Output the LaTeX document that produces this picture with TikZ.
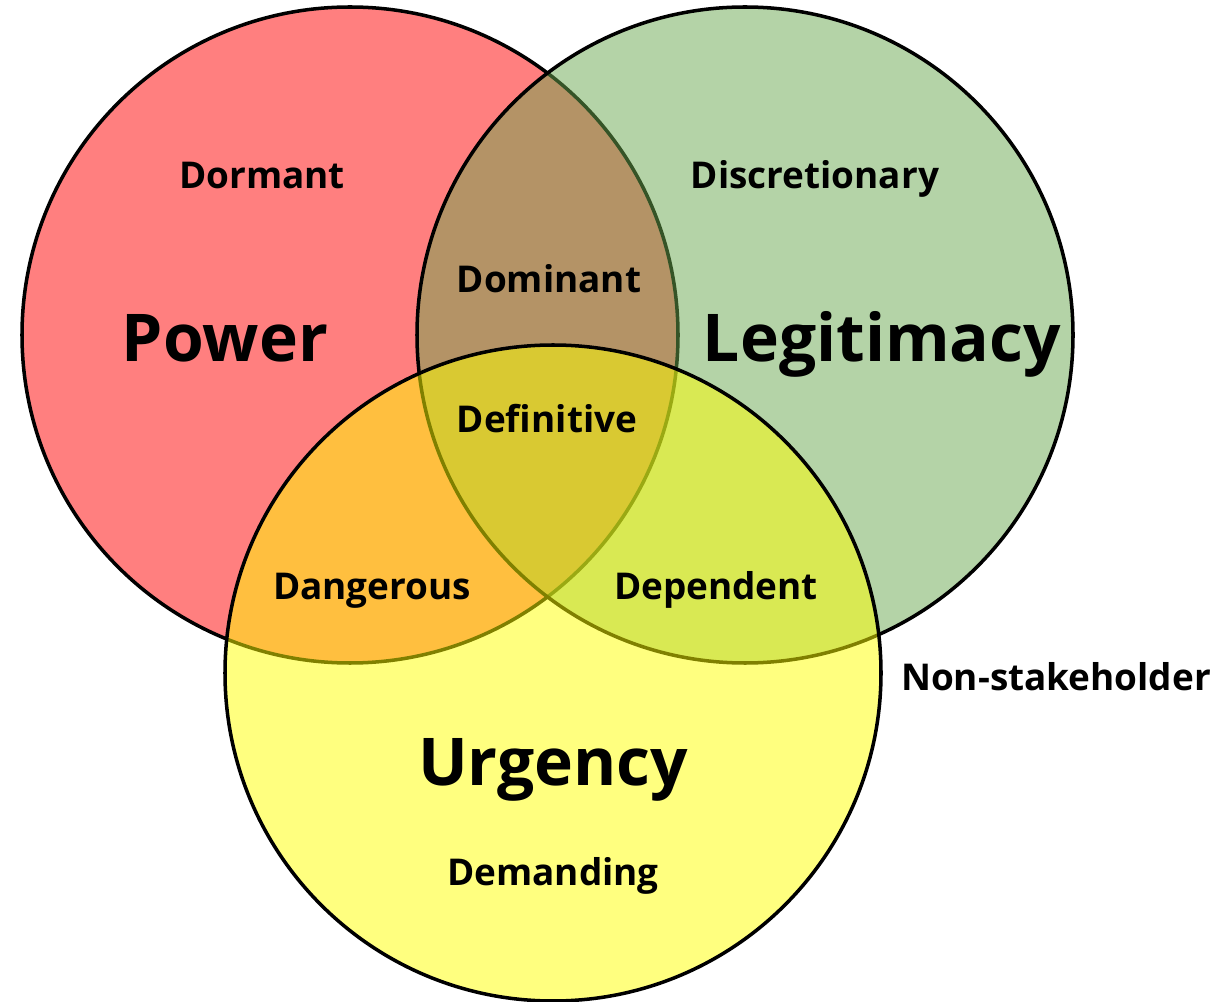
\documentclass[tikz,border=0pt]{standalone}
\usepackage{fontspec}
\setmainfont{Open Sans}
\usetikzlibrary{calc}
\definecolor{powerred}{HTML}{FF0000}
\definecolor{legitgreen}{HTML}{6AA84F}
\definecolor{urgyellow}{HTML}{FFFF00}
\tikzset{
	venn/.style={line width=2pt, draw=black, fill opacity=0.5, draw opacity=1},
	kind/.style={font=\bfseries\fontsize{21}{24}\selectfont, anchor=base, inner sep=0pt},
	attr/.style={font=\bfseries\fontsize{37.5}{44}\selectfont, anchor=base, inner sep=0pt}
}
\begin{document}
\begin{tikzpicture}
			%%%%% START %%%%%
			
			\useasboundingbox (0, 0) rectangle (24.5, 20.02);
			
			\draw[venn, fill=powerred] (7.0, 13.32) circle (6.56);
			\draw[venn, fill=legitgreen] (14.9, 13.32) circle (6.56);
			\draw[venn, fill=urgyellow] (11.06, 6.56) circle (6.56);
			
			\node[attr] (power) at (4.50, 12.78) {Power};
			\node[attr] (legitimacy) at (17.64, 12.78) {Legitimacy};
			\node[attr] (urgency) at (11.06, 4.32) {Urgency};
			
			\node[kind] (dormant) at (5.24, 16.24) {Dormant};
			\node[kind] (discretionary) at (16.30, 16.24) {Discretionary};
			\node[kind] (dominant) at (10.98, 14.16) {Dominant};
			\node[kind] (definitive) at (10.94, 11.36) {Definitive};
			\node[kind] (dangerous) at (7.44, 8.02) {Dangerous};
			\node[kind] (dependent) at (14.32, 8.02) {Dependent};
			\node[kind] (demanding) at (11.06, 2.32) {Demanding};
			\node[kind] (nonstake) at (21.12, 6.22) {Non-stakeholder};
			
			%%%%% END %%%%%
		\end{tikzpicture}
\end{document}
